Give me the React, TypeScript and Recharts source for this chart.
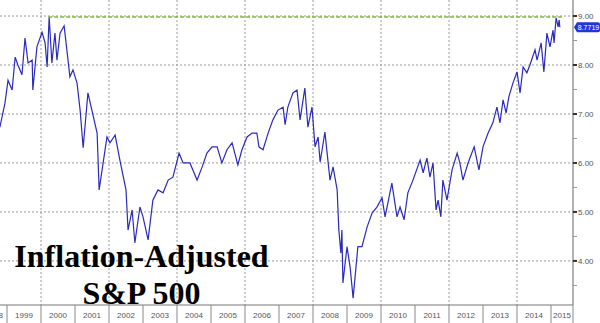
import { LineChart, Line, XAxis, YAxis, CartesianGrid, ReferenceLine } from 'recharts'

// decimal years
const dates = [
  1998.79, 1998.94, 1999.03, 1999.15, 1999.24, 1999.32, 1999.44, 1999.53, 1999.62, 1999.74,
  1999.76, 1999.88, 2000.03, 2000.12, 2000.18, 2000.24, 2000.32, 2000.41, 2000.47, 2000.56,
  2000.68, 2000.76, 2000.85, 2000.94, 2001.06, 2001.15, 2001.24, 2001.38, 2001.65, 2001.71,
  2001.94, 2002.03, 2002.18, 2002.32, 2002.5, 2002.56, 2002.68, 2002.76, 2002.91, 2003.0,
  2003.15, 2003.29, 2003.44, 2003.59, 2003.74, 2003.88, 2004.06, 2004.18, 2004.38, 2004.59,
  2004.74, 2004.88, 2005.03, 2005.18, 2005.32, 2005.47, 2005.62, 2005.79, 2005.91, 2006.06,
  2006.21, 2006.35, 2006.41, 2006.53, 2006.68, 2006.82, 2006.97, 2007.12, 2007.18, 2007.26,
  2007.41, 2007.53, 2007.62, 2007.76, 2007.85, 2007.97, 2008.06, 2008.15, 2008.21, 2008.35,
  2008.5, 2008.59, 2008.71, 2008.76, 2008.82, 2008.85, 2008.88, 2009.0, 2009.09, 2009.18,
  2009.32, 2009.44, 2009.59, 2009.74, 2009.88, 2010.03, 2010.12, 2010.32, 2010.47, 2010.56,
  2010.68, 2010.79, 2010.94, 2011.15, 2011.24, 2011.35, 2011.44, 2011.53, 2011.62, 2011.68,
  2011.76, 2011.82, 2011.94, 2012.09, 2012.24, 2012.32, 2012.41, 2012.56, 2012.74, 2012.88,
  2013.0, 2013.15, 2013.29, 2013.41, 2013.5, 2013.59, 2013.68, 2013.76, 2013.88, 2014.0,
  2014.09, 2014.18, 2014.29, 2014.38, 2014.53, 2014.59, 2014.71, 2014.79, 2014.88, 2014.97,
  2015.06, 2015.09, 2015.15, 2015.21, 2015.24, 2015.26,
]

const values = [
  6.73, 7.22, 7.69, 7.49, 8.16, 8.0, 7.8, 8.55, 8.04, 8.1,
  7.49, 8.37, 8.67, 8.45, 7.96, 8.98, 8.04, 8.65, 8.1, 8.65,
  8.8, 8.31, 7.76, 7.9, 7.63, 7.08, 6.31, 7.43, 6.61, 5.45,
  6.53, 6.41, 6.57, 6.06, 5.45, 4.63, 5.04, 4.37, 5.1, 4.9,
  4.43, 5.24, 5.45, 5.39, 5.65, 5.71, 6.2, 6.0, 6.0, 5.65,
  5.92, 6.2, 6.33, 6.33, 6.0, 6.27, 6.41, 5.96, 6.27, 6.53,
  6.61, 6.61, 6.33, 6.27, 6.61, 6.88, 7.08, 7.14, 6.78, 7.14,
  7.43, 7.49, 6.88, 7.53, 6.73, 7.14, 6.33, 6.53, 6.02, 6.63,
  5.65, 5.92, 5.45, 4.63, 4.16, 4.63, 3.55, 4.29, 3.88, 3.24,
  4.29, 4.29, 4.69, 4.98, 5.1, 5.29, 4.9, 5.59, 4.9, 5.1,
  4.84, 5.39, 5.65, 6.06, 5.8, 6.1, 5.71, 6.0, 5.04, 5.24,
  4.9, 5.65, 5.24, 5.86, 6.2, 6.0, 5.65, 6.0, 6.33, 5.86,
  6.33, 6.61, 6.82, 7.14, 6.82, 7.29, 7.02, 7.35, 7.63, 7.86,
  7.43, 7.96, 7.84, 8.0, 8.31, 8.1, 8.45, 7.86, 8.65, 8.37,
  8.71, 8.45, 8.96, 8.78, 8.92, 8.77,
]

const yearTicks = [1999, 2000, 2001, 2002, 2003, 2004, 2005, 2006, 2007, 2008, 2009, 2010, 2011, 2012, 2013, 2014, 2015]
const gridYears = [2000, 2002, 2004, 2006, 2008, 2010, 2012, 2014]
const priceTicks = [3.5, 4, 4.5, 5, 5.5, 6, 6.5, 7, 7.5, 8, 8.5, 9]
const gridPrices = [4, 5, 6, 7, 8, 9]
const lastValue = 8.7719
const highLevel = 8.98
const highFrom = 2000.21
const highTo = 2015.32

const data = dates.map((d, i) => ({ date: d, value: values[i] }))

const W = 600
const H = 323
const AXIS_W = 27
const AXIS_H = 18
const X_MIN = 1998.794
const X_MAX = 2015.647
const PLOT_W = W - AXIS_W
const YEAR_PX = PLOT_W / (X_MAX - X_MIN)

const tickFont = { fontFamily: 'Liberation Sans, Arial, sans-serif', fontSize: 8, fill: '#555' }

function YearTick(props: any) {
  const { x, y, payload } = props
  const v = payload.value
  const isYear = Number.isInteger(v)
  const right = Math.min(x + YEAR_PX, PLOT_W)
  return (
    <g>
      <line x1={x} y1={y} x2={x} y2={y + AXIS_H} stroke="#888" strokeWidth={1} />
      {isYear && (
        <text x={(x + right) / 2} y={y + 13} textAnchor="middle" {...tickFont}>
          {v}
        </text>
      )}
      {v === yearTicks[0] && (
        <text x={x - 13} y={y + 13} textAnchor="middle" {...tickFont}>
          {v - 1}
        </text>
      )}
    </g>
  )
}

function PriceTick(props: any) {
  const { x, y, payload } = props
  const v = payload.value
  const major = Number.isInteger(v)
  return (
    <g>
      <line x1={x} y1={y} x2={x + 4} y2={y} stroke={major ? '#333' : '#999'} strokeWidth={major ? 2 : 1} />
      {major && (
        <text x={x + 5} y={y + 3} textAnchor="start" {...tickFont}>
          {v.toFixed(2)}
        </text>
      )}
    </g>
  )
}

function LastLabel(props: any) {
  const { viewBox } = props
  const x = viewBox.x + viewBox.width + 1
  const y = viewBox.y
  return (
    <g>
      <path
        d={`M${x} ${y} L${x + 3} ${y - 5} L${x + 24} ${y - 5} Q${x + 26} ${y - 5} ${x + 26} ${y - 3} L${x + 26} ${y + 3} Q${x + 26} ${y + 5} ${x + 24} ${y + 5} L${x + 3} ${y + 5} Z`}
        fill="#2336d6"
      />
      <text x={x + 14.5} y={y + 2.5} textAnchor="middle" fontFamily="Liberation Sans, Arial, sans-serif" fontSize={7} fill="#fff">
        {lastValue}
      </text>
    </g>
  )
}

export default function App() {
  return (
    <div style={{ position: 'absolute', left: 0, top: 0, width: W, height: H, background: '#fff' }}>
      <LineChart width={W} height={H} data={data} margin={{ top: 0, right: 0, left: 0, bottom: 0 }}>
        <CartesianGrid
          horizontalValues={gridPrices}
          verticalValues={gridYears}
          stroke="#9a9a9a"
          strokeWidth={1}
          strokeDasharray="2 2"
        />
        <XAxis
          dataKey="date"
          type="number"
          domain={[X_MIN, X_MAX]}
          allowDataOverflow
          ticks={[...yearTicks, X_MAX]}
          interval={0}
          height={AXIS_H}
          tickLine={false}
          tickSize={0}
          tickMargin={0}
          axisLine={{ stroke: '#777' }}
          tick={<YearTick />}
        />
        <YAxis
          orientation="right"
          domain={[3.1, 9.327]}
          allowDataOverflow
          ticks={priceTicks}
          interval={0}
          width={AXIS_W}
          tickLine={false}
          tickSize={0}
          tickMargin={0}
          axisLine={{ stroke: '#666' }}
          tick={<PriceTick />}
        />
        <Line
          type="linear"
          dataKey="value"
          stroke="#2a2abf"
          strokeWidth={1.2}
          dot={false}
          isAnimationActive={false}
        />
        <ReferenceLine
          segment={[
            { x: highFrom, y: highLevel },
            { x: highTo, y: highLevel },
          ]}
          stroke="#86b83a"
          strokeWidth={1.6}
          strokeDasharray="4 2"
        />
        <ReferenceLine y={lastValue} stroke="none" label={<LastLabel />} />
      </LineChart>
      <div
        style={{
          position: 'absolute',
          left: 0,
          top: 238,
          width: 283,
          textAlign: 'center',
          fontFamily: 'Liberation Serif, Times New Roman, serif',
          fontWeight: 'bold',
          fontSize: 32,
          lineHeight: '37px',
          color: '#000',
        }}
      >
        Inflation-Adjusted
        <br />
        S&amp;P 500
      </div>
    </div>
  )
}
